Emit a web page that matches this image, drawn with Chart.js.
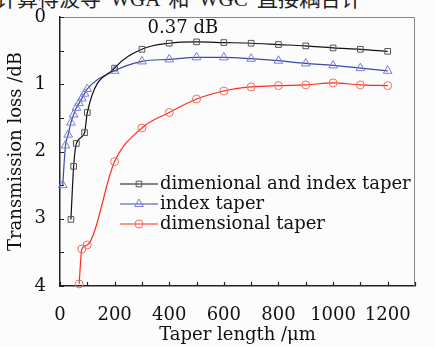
<!DOCTYPE html>
<html>
<head>
<meta charset="utf-8">
<title>Taper loss</title>
<style>
body { margin: 0; background: #fcfcfc; }
#wrap { position: relative; width: 434px; height: 347px; overflow: hidden; }
#cut { position: absolute; left: -4px; top: -11px; font-size: 21px; line-height: 21px; font-family: "Liberation Serif", "Noto Sans CJK SC"; color: #222; white-space: nowrap; word-spacing: 4px; }
#myChart { position: absolute; left: 0; top: 0; }
</style>
</head>
<body>
<div id="wrap">
  <div id="cut">计算得波导 WGA 和 WGC 直接耦合计</div>
  <canvas id="myChart" width="434" height="347"></canvas>
</div>
<script src="https://cdn.jsdelivr.net/npm/chart.js@4.4.0/dist/chart.umd.min.js"></script>
<script>
// taper length (um) and loss (dB)
var bothX = [40, 50, 60, 90, 100, 200, 300, 400, 500, 600, 700, 800, 900, 1000, 1100, 1200];
var bothLoss = [3.01, 2.22, 1.88, 1.72, 1.42, 0.76, 0.48, 0.39, 0.37, 0.38, 0.39, 0.41, 0.43, 0.46, 0.48, 0.51];

var indexX = [10, 20, 30, 40, 50, 60, 70, 80, 90, 100, 200, 300, 400, 500, 600, 700, 800, 900, 1000, 1100, 1200];
var indexLoss = [2.5, 1.91, 1.75, 1.57, 1.45, 1.35, 1.28, 1.21, 1.14, 1.07, 0.80, 0.66, 0.63, 0.60, 0.60, 0.62, 0.65, 0.69, 0.72, 0.76, 0.80];

var dimX = [70, 80, 100, 200, 300, 400, 500, 600, 700, 800, 900, 1000, 1100, 1200];
var dimLoss = [3.97, 3.45, 3.39, 2.15, 1.65, 1.42, 1.22, 1.10, 1.04, 1.02, 1.01, 0.98, 1.01, 1.02];

var seriesNames = ["dimenional and index taper", "index taper", "dimensional taper"];
var yLabels = [0, 1, 2, 3, 4];
var xLabels = [0, 200, 400, 600, 800, 1000, 1200];
var minLabel = "0.37 dB";

function pts(xs, ys) {
    return xs.map(function (x, i) { return { x: x, y: ys[i] }; });
}

Chart.defaults.font.family = "DejaVu Serif";
Chart.defaults.font.size = 18;
Chart.defaults.color = "#111";

// inward ticks, grey top/right frame, the min annotation and the legend
var extras = {
    id: 'extras',
    afterDraw: function (chart) {
        var ctx = chart.ctx;
        var a = chart.chartArea;
        var xs = chart.scales.x, ys = chart.scales.y;
        ctx.save();
        ctx.strokeStyle = '#888';
        ctx.lineWidth = 1;
        ctx.beginPath();
        ctx.moveTo(a.left, a.top + 0.5);
        ctx.lineTo(a.right - 0.5, a.top + 0.5);
        ctx.lineTo(a.right - 0.5, a.bottom);
        ctx.stroke();

        ctx.strokeStyle = '#222';
        ctx.lineWidth = 1.2;
        ctx.beginPath();
        ys.ticks.forEach(function (t) {
            var p = Math.round(ys.getPixelForValue(t.value)) + 0.5;
            ctx.moveTo(a.left, p);
            ctx.lineTo(a.left + 4, p);
        });
        xs.ticks.forEach(function (t) {
            var p = Math.round(xs.getPixelForValue(t.value)) + 0.5;
            ctx.moveTo(p, a.bottom);
            ctx.lineTo(p, a.bottom - 4);
        });
        ctx.stroke();

        ctx.fillStyle = '#111';
        ctx.font = '18px "DejaVu Serif"';
        ctx.textAlign = 'center';
        ctx.textBaseline = 'middle';
        ctx.fillText(minLabel, xs.getPixelForValue(450), ys.getPixelForValue(0.165));

        var lx = a.left + 60, ly = a.top + 167;
        chart.data.datasets.forEach(function (ds, i) {
            var y = ly + i * 20;
            ctx.strokeStyle = ds.borderColor;
            ctx.lineWidth = ds.borderWidth;
            ctx.beginPath();
            ctx.moveTo(lx, y);
            ctx.lineTo(lx + 38, y);
            ctx.stroke();
            ctx.strokeStyle = ds.pointBorderColor;
            ctx.fillStyle = 'rgba(0,0,0,0)';
            ctx.lineWidth = 1;
            Chart.helpers.drawPoint(ctx, {
                pointStyle: ds.pointStyle, radius: ds.pointRadius, borderWidth: 1, rotation: 0
            }, lx + 19, y);
            ctx.fillStyle = '#111';
            ctx.textAlign = 'left';
            ctx.fillText(ds.label, lx + 40, y);
        });
        ctx.restore();
    }
};

var ctx = document.getElementById('myChart').getContext('2d');
var chart = new Chart(ctx, {
    type: 'line',
    data: {
        datasets: [{
            label: seriesNames[0],
            data: pts(bothX, bothLoss),
            borderColor: '#111',
            borderWidth: 1.2,
            pointStyle: 'rect',
            pointRadius: 4,
            pointBorderColor: '#555',
            pointBackgroundColor: 'rgba(0,0,0,0)',
            pointBorderWidth: 1,
            cubicInterpolationMode: 'monotone'
        }, {
            label: seriesNames[1],
            data: pts(indexX, indexLoss),
            borderColor: '#3a48a8',
            borderWidth: 1.2,
            pointStyle: 'triangle',
            pointRadius: 5,
            pointBorderColor: '#7c7cd6',
            pointBackgroundColor: 'rgba(0,0,0,0)',
            pointBorderWidth: 1,
            cubicInterpolationMode: 'monotone'
        }, {
            label: seriesNames[2],
            data: pts(dimX, dimLoss),
            borderColor: '#ff2a1a',
            borderWidth: 1.2,
            pointStyle: 'circle',
            pointRadius: 4,
            pointBorderColor: '#f07060',
            pointBackgroundColor: 'rgba(0,0,0,0)',
            pointBorderWidth: 1,
            cubicInterpolationMode: 'monotone'
        }]
    },
    options: {
        responsive: false,
        animation: false,
        clip: false,
        layout: { padding: { top: 17, right: 19, left: 0, bottom: 0 } },
        plugins: { legend: { display: false }, tooltip: { enabled: false } },
        scales: {
            x: {
                type: 'linear',
                min: 0,
                max: 1300,
                grid: { display: false },
                border: { color: '#222', width: 1.5 },
                ticks: {
                    stepSize: 100,
                    autoSkip: false,
                    maxRotation: 0,
                    padding: 11,
                    callback: function (v) { return xLabels.indexOf(v) >= 0 ? String(v) : ''; }
                },
                title: { display: true, text: 'Taper length /μm', padding: { top: 0, bottom: 1 } },
                afterFit: function (s) { s.height = 61; }
            },
            y: {
                type: 'linear',
                reverse: true,
                min: 0,
                max: 4,
                grid: { display: false },
                border: { color: '#222', width: 1.5 },
                ticks: {
                    stepSize: 0.5,
                    autoSkip: false,
                    padding: 6,
                    callback: function (v) { return yLabels.indexOf(v) >= 0 ? String(v) : ''; }
                },
                title: { display: true, text: 'Transmission loss /dB', padding: { top: 6, bottom: 0 } },
                afterFit: function (s) { s.width = 60; }
            }
        }
    },
    plugins: [extras]
});
</script>
</body>
</html>
